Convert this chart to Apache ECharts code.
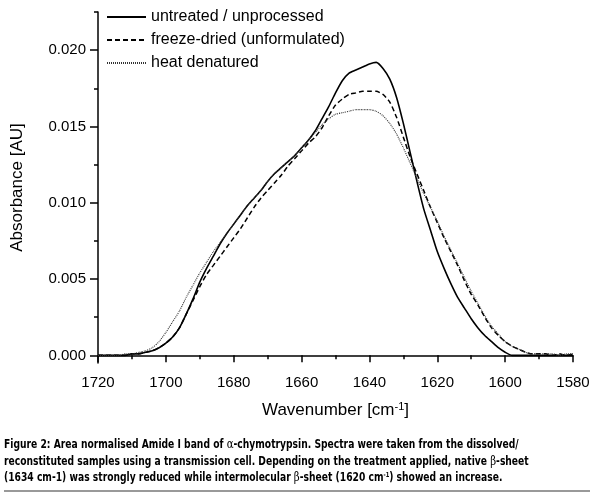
<!DOCTYPE html>
<html>
<head>
<meta charset="utf-8">
<script src="https://cdn.jsdelivr.net/npm/echarts@6/dist/echarts.min.js"></script>
<style>
html,body{margin:0;padding:0;background:#fff;}
#c{width:600px;height:496px;}
</style>
</head>
<body>
<div id="c"></div>
<script>
// ---- data ----
const wavenumbers = [1720,1718,1716,1714,1712,1710,1708,1706,1704,1702,1700,1698,1696,1694,1692,1690,1688,1686,1684,1682,1680,1678,1676,1674,1672,1670,1668,1666,1664,1662,1660,1658,1656,1654,1652,1650,1648,1646,1644,1642,1640,1638,1636,1634,1632,1630,1628,1626,1624,1622,1620,1618,1616,1614,1612,1610,1608,1606,1604,1602,1600,1598,1596,1594,1592,1590,1588,1586,1584,1582,1580];
const untreated = [0,0,0,0,0,0.0001,0.0001,0.0002,0.0003,0.0005,0.0008,0.0012,0.0018,0.0027,0.0037,0.0048,0.0057,0.0065,0.0073,0.0080,0.0086,0.0092,0.0098,0.0103,0.0108,0.0114,0.0119,0.0123,0.0127,0.0131,0.0136,0.0141,0.0147,0.0155,0.0163,0.0172,0.0180,0.0185,0.0187,0.0189,0.0191,0.0192,0.0188,0.0181,0.0169,0.0152,0.0133,0.0114,0.0096,0.0082,0.0068,0.0057,0.0047,0.0038,0.0031,0.0024,0.0018,0.0013,0.0009,0.0005,0.0002,0,0,0,0,0,0,0,0,0,0];
const freezeDried = [0,0,0,0,0,0.0001,0.0001,0.0002,0.0003,0.0005,0.0008,0.0012,0.0018,0.0027,0.0036,0.0045,0.0053,0.0059,0.0065,0.0071,0.0077,0.0083,0.0090,0.0097,0.0103,0.0108,0.0113,0.0118,0.0124,0.0129,0.0134,0.0139,0.0143,0.0149,0.0157,0.0164,0.0168,0.0171,0.0172,0.0173,0.0173,0.0173,0.0171,0.0166,0.0156,0.0143,0.0130,0.0119,0.0108,0.0097,0.0087,0.0077,0.0068,0.0059,0.0049,0.0040,0.0033,0.0025,0.0018,0.0013,0.0009,0.0006,0.0004,0.0002,0.0001,0.0001,0.0001,0.0000,0.0001,0.0000,0.0001];
const heatDenatured = [0,0,0,0,0.0001,0.0001,0.0002,0.0003,0.0005,0.0009,0.0015,0.0022,0.0029,0.0038,0.0046,0.0054,0.0061,0.0068,0.0074,0.0080,0.0086,0.0092,0.0098,0.0103,0.0108,0.0114,0.0119,0.0123,0.0127,0.0131,0.0136,0.0141,0.0146,0.0151,0.0155,0.0158,0.0159,0.0160,0.0161,0.0161,0.0161,0.0160,0.0157,0.0152,0.0145,0.0136,0.0126,0.0116,0.0106,0.0097,0.0088,0.0078,0.0069,0.0060,0.0051,0.0042,0.0034,0.0026,0.0019,0.0014,0.0009,0.0006,0.0004,0.0002,0.0001,0.0001,0.0001,0.0001,0.0000,0.0001,0.0001];
const seriesNames = ['untreated / unprocessed','freeze-dried (unformulated)','heat denatured'];
const yMajorTicks = [0, 0.005, 0.010, 0.015, 0.020];
const yMinorTicks = [0.0025, 0.0075, 0.0125, 0.0175, 0.0225];
const captionLines = [
  'Figure 2: Area normalised Amide I band of {g|α}-chymotrypsin. Spectra were taken from the dissolved/',
  'reconstituted samples using a transmission cell. Depending on the treatment applied, native {g|β}-sheet',
  '(1634 cm-1) was strongly reduced while intermolecular {g|β}-sheet (1620 cm{s|-1}) showed an increase.'
];

const pairs = arr => wavenumbers.map((w,i)=>[w, arr[i]]);
const FONT = 'Liberation Sans, Arial, sans-serif';
const CAPFONT = '"DejaVu Sans Condensed", "DejaVu Sans", sans-serif';
const CAPSIZE = 12.5;

// horizontal squeeze so the first caption line spans ~514px like the reference
const ctx = document.createElement('canvas').getContext('2d');
ctx.font = 'bold ' + CAPSIZE + 'px ' + CAPFONT;
const plain1 = captionLines[0].replace(/\{g\|(.)\}/g,'$1');
const capScale = Math.min(1, 514 / ctx.measureText(plain1).width);

const chart = echarts.init(document.getElementById('c'), null, {renderer:'canvas'});
const yBase = {
  type:'value', min:-0.0005, max:0.0225, position:'left',
  splitLine:{show:false}
};
chart.setOption({
  animation:false,
  backgroundColor:'#fff',
  grid:{left:98, right:27, top:12, bottom:133, containLabel:false},
  legend:{
    orient:'vertical', left:106, top:9, padding:0,
    itemWidth:39, itemHeight:14, itemGap:7,
    itemStyle:{opacity:0},
    textStyle:{fontFamily:FONT, fontSize:16, color:'#000'},
    data:seriesNames
  },
  xAxis:[{
    type:'value', inverse:true, min:1580, max:1720, interval:20,
    axisLine:{show:true, lineStyle:{color:'#000', width:1.5}},
    axisTick:{show:true, inside:false, length:7, lineStyle:{color:'#000', width:1.5}},
    minorTick:{show:true, splitNumber:2, length:4, lineStyle:{color:'#000', width:1.5}},
    axisLabel:{fontFamily:FONT, fontSize:15, color:'#000', margin:12, formatter:v=>String(v)},
    splitLine:{show:false},
    name:'Wavenumber [cm{s|-1}]', nameLocation:'middle', nameGap:38,
    nameTextStyle:{fontFamily:FONT, fontSize:17, color:'#000',
      rich:{s:{fontFamily:FONT, fontSize:11, color:'#000', verticalAlign:'top', padding:[0,0,8,0]}}}
  }],
  yAxis:[
    Object.assign({}, yBase, {
      axisLine:{show:true, lineStyle:{color:'#000', width:1.5}},
      axisTick:{show:true, length:8, customValues:yMajorTicks, lineStyle:{color:'#000', width:1.5}},
      axisLabel:{fontFamily:FONT, fontSize:15, color:'#000', margin:12, customValues:yMajorTicks,
        formatter:v=>v.toFixed(3)},
      name:'Absorbance [AU]', nameLocation:'middle', nameGap:72, nameRotate:90,
      nameTextStyle:{fontFamily:FONT, fontSize:17, color:'#000'}
    }),
    Object.assign({}, yBase, {
      axisLine:{show:false},
      axisTick:{show:true, length:4, customValues:yMinorTicks, lineStyle:{color:'#000', width:1.5}},
      axisLabel:{show:false}
    })
  ],
  series:[
    {name:seriesNames[0], type:'line', data:pairs(untreated), symbol:'none', smooth:0.2,
     lineStyle:{color:'#000', width:1.6, type:'solid'}, itemStyle:{color:'#000'}},
    {name:seriesNames[1], type:'line', data:pairs(freezeDried), symbol:'none', smooth:0.2,
     lineStyle:{color:'#000', width:1.5, type:[5,3]}, itemStyle:{color:'#000'}},
    {name:seriesNames[2], type:'line', data:pairs(heatDenatured), symbol:'none', smooth:0.2,
     lineStyle:{color:'#333', width:1.1, type:[1,1]}, itemStyle:{color:'#333'}}
  ],
  graphic:[
    ...captionLines.map((t,i)=>({
      type:'text', x:4, y:438 + i*16.8, scaleX:capScale, silent:true,
      style:{text:t, fontFamily:CAPFONT, fontSize:CAPSIZE, fontWeight:'bold', fill:'#000',
        verticalAlign:'top',
        rich:{
          g:{fontFamily:'"DejaVu Serif", serif', fontSize:CAPSIZE, fontWeight:'normal', fill:'#000'},
          s:{fontFamily:CAPFONT, fontSize:7, fontWeight:'bold', fill:'#000', verticalAlign:'top', padding:[0,0,6,0]}
        }}
    })),
    {type:'rect', x:4, y:490, shape:{x:0, y:0, width:586, height:2}, style:{fill:'#999'}, silent:true}
  ]
});
</script>
</body>
</html>
